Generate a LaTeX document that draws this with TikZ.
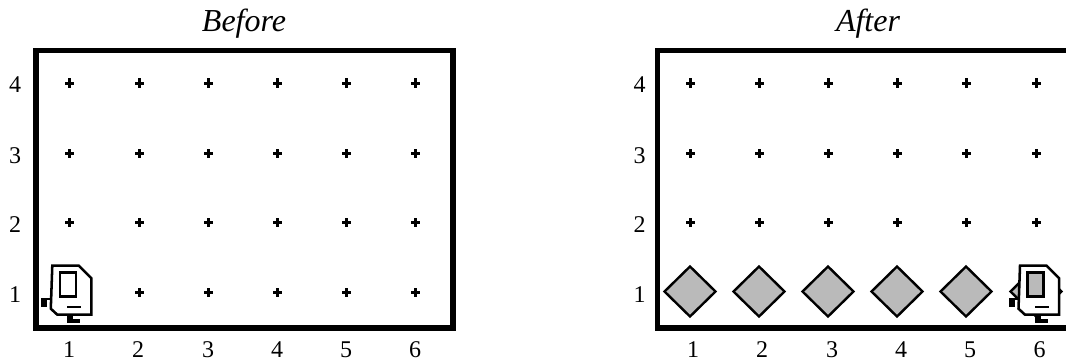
\documentclass[tikz,border=0pt]{standalone}
\usepackage{fontspec}
\setmainfont{Liberation Serif}
\tikzset{
  x=0.75pt,y=-0.75pt,
  frameline/.style={line width=3.9pt,line cap=rect,line join=miter},
  griddot/.style={fill=black,draw=none},
  token/.style={draw=black,line width=1.8pt,fill=tokengray,line join=miter},
  robotline/.style={draw=black,line width=1.9pt,line join=miter},
  lbl/.style={inner sep=0pt,anchor=base,font=\fontsize{18}{18}\selectfont},
  ttl/.style={inner sep=0pt,anchor=base,font=\fontsize{24}{24}\selectfont\itshape},
  pics/gridplus/.style={code={
    \fill[griddot] (-1.5,-4.5) rectangle (1.5,4.5);
    \fill[griddot] (-4.5,-1.5) rectangle (4.5,1.5);}},
  pics/tokenmark/.style={code={
    \draw[token] (-25.5,0) -- (0,-25) -- (25.5,0) -- (0,25) -- cycle;}},
  pics/robotmark/.style={code={
    % body
    \draw[robotline,fill=white] (0,0) -- (26.5,0) -- (39,12.5) -- (39,49) -- (5,49) -- (-1.5,43) -- cycle;
    % screen
    \draw[robotline,fill=#1] (7.5,6.8) rectangle (23.7,30.8);
    % slot
    \fill[black] (15,40) rectangle (29,42.5);
    % left foot
    \fill[black] (-11.5,32) rectangle (-0.5,34.5);
    \fill[black] (-11.5,32) rectangle (-5.5,41.5);
    % bottom foot
    \fill[black] (15,49) rectangle (21,57.5);
    \fill[black] (15,53) rectangle (28,57.5);}},
  pics/robotmark/.default=white
}
\definecolor{tokengray}{gray}{0.73}
\begin{document}
\begin{tikzpicture}
\useasboundingbox (0,0) rectangle (1066,360);
% Before
\draw[frameline] (36,328) -- (36,50.5) -- (453,50.5) -- (453,328) -- cycle;
\node[ttl] (titleBefore) at (244,32) {Before};
\foreach \c/\x/\lx in {1/69/69,2/139/138,3/208/208,4/277/277,5/346/346,6/415/415}{
  \node[lbl] (bx\c) at (\lx,357) {\c};
  \foreach \y in {83,153,222,292}{
    \ifnum\c=1 \ifnum\y=292 \else \pic at (\x,\y) {gridplus};\fi
    \else \pic at (\x,\y) {gridplus};\fi
  }
}
\foreach \r/\y in {1/302,2/232,3/163,4/93}{
  \node[lbl] (by\r) at (15,\y) {\r};
}
\pic at (52.3,265.7) {robotmark};
% After
\draw[frameline] (657.5,328) -- (657.5,50.5) -- (1075,50.5) -- (1075,328) -- cycle;
\node[ttl] (titleAfter) at (868,32) {After};
\foreach \c/\x/\lx in {1/690/693,2/759/762,3/828/832,4/897/901,5/966/970,6/1036/1039.5}{
  \node[lbl] (ax\c) at (\lx,357) {\c};
  \foreach \y in {83,153,222}{\pic at (\x,\y) {gridplus};}
  \pic at (\x,291.5) {tokenmark};
}
\foreach \r/\y in {1/302,2/232,3/163,4/93}{
  \node[lbl] (ay\r) at (639.5,\y) {\r};
}
\pic at (1020,265.7) {robotmark=tokengray};
\end{tikzpicture}
\end{document}
